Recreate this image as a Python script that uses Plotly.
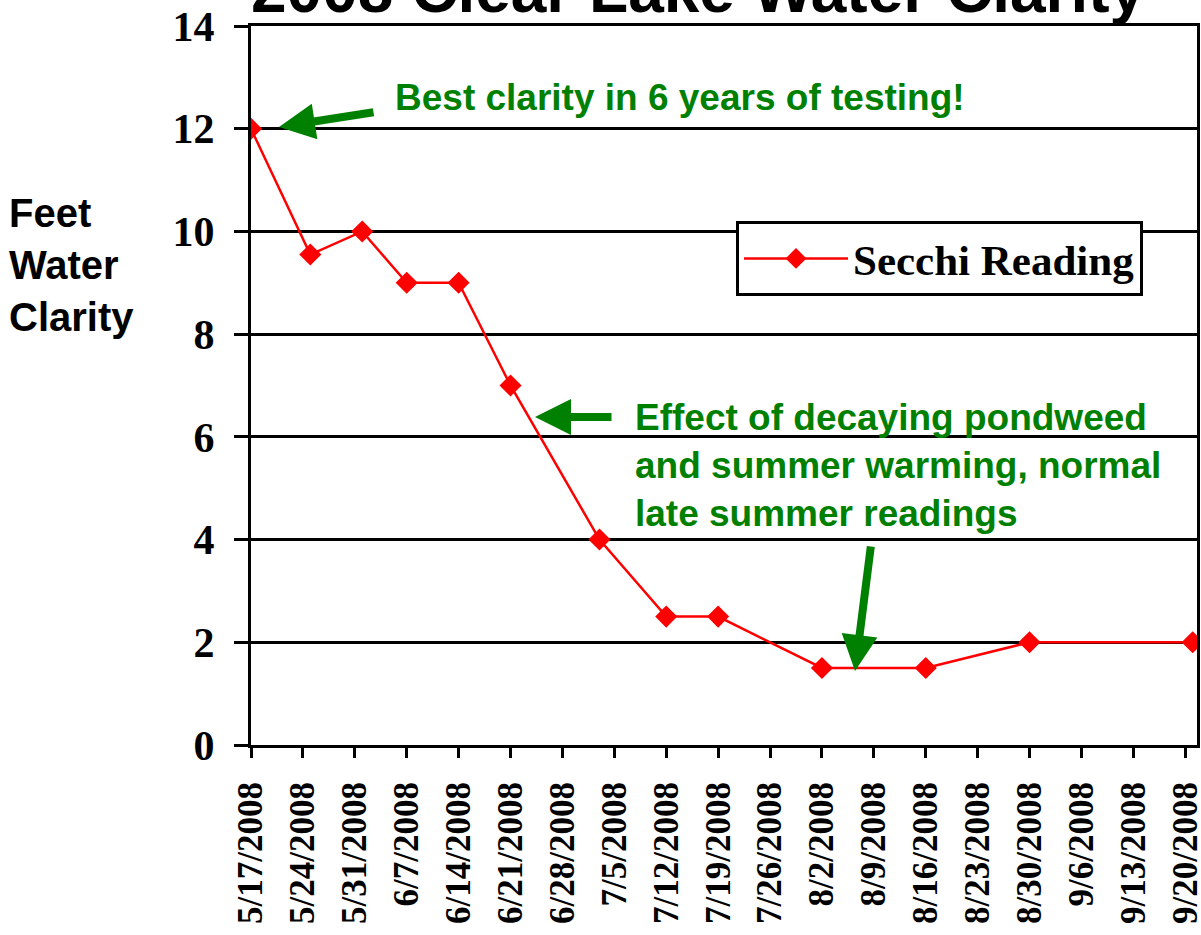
import plotly.graph_objects as go
import pandas as pd

# ---- data ----
sample_dates = ["2008-05-17", "2008-05-25", "2008-06-01", "2008-06-07", "2008-06-14",
                "2008-06-21", "2008-07-03", "2008-07-12", "2008-07-19", "2008-08-02",
                "2008-08-16", "2008-08-30", "2008-09-21"]
secchi_feet = [12, 9.55, 10, 9, 9, 7, 4, 2.5, 2.5, 1.5, 1.5, 2, 2]
tick_labels = ["5/17/2008", "5/24/2008", "5/31/2008", "6/7/2008", "6/14/2008", "6/21/2008",
               "6/28/2008", "7/5/2008", "7/12/2008", "7/19/2008", "7/26/2008", "8/2/2008",
               "8/9/2008", "8/16/2008", "8/23/2008", "8/30/2008", "9/6/2008", "9/13/2008",
               "9/20/2008"]
y_ticks = [0, 2, 4, 6, 8, 10, 12, 14]
tick_dates = [pd.to_datetime(t, format="%m/%d/%Y") for t in tick_labels]

# ---- layout geometry (pixels) ----
W, H = 1201, 935
PL, PR, PT, PB = 251, 1197, 26, 745

def px_x(x):
    return (x - PL) / (PR - PL)

def px_y(y):
    return (PB - y) / (PB - PT)

GREEN = "#008000"
SANS = "Liberation Sans, Arial, sans-serif"
SERIF = "Liberation Serif, Times New Roman, serif"

fig = go.Figure()
fig.add_trace(go.Scatter(
    x=pd.to_datetime(sample_dates), y=secchi_feet, mode="lines+markers",
    name="Secchi Reading",
    line=dict(color="#FF0000", width=2.5),
    marker=dict(symbol="diamond", size=17, color="#FF0000"),
))

fig.update_layout(
    width=W, height=H,
    margin=dict(l=PL, r=W - PR, t=PT, b=H - PB, autoexpand=False),
    paper_bgcolor="white", plot_bgcolor="white",
    showlegend=True,
    legend=dict(
        x=px_x(736), y=px_y(221), xanchor="left", yanchor="top",
        bgcolor="white", bordercolor="black", borderwidth=3,
        font=dict(family=SERIF, size=43, color="black", weight="bold"),
        itemwidth=104,
    ),
)

fig.update_xaxes(
    type="date", automargin=False,
    range=["2008-05-17", "2008-09-21 14:00"],
    tickmode="array", tickvals=tick_dates, ticktext=tick_labels,
    tickangle=-90, ticklabeloverflow="allow",
    tickfont=dict(family=SERIF, size=35, color="black", weight="bold"),
    ticks="outside", ticklen=10, tickwidth=3, tickcolor="black",
    ticklabelstandoff=10,
    showline=True, linecolor="black", linewidth=3, mirror=True,
    showgrid=False, zeroline=False,
)
fig.update_yaxes(
    range=[0, 14], automargin=False,
    tickmode="array", tickvals=y_ticks,
    tickfont=dict(family=SERIF, size=42, color="black", weight="bold"),
    ticks="outside", ticklen=14, tickwidth=3, tickcolor="black",
    ticklabelstandoff=11,
    showline=True, linecolor="black", linewidth=3, mirror=True,
    showgrid=True, gridcolor="black", gridwidth=3, zeroline=False,
)

# title (partly cut off at the top of the page)
fig.add_annotation(
    text="2008 Clear Lake Water Clarity", xref="paper", yref="paper",
    x=px_x(698), y=px_y(-10), xanchor="center", yanchor="middle",
    showarrow=False,
    font=dict(family=SANS, size=64, color="black", weight="bold"),
)

# y axis title
fig.add_annotation(
    text="Feet<br>Water<br>Clarity", xref="paper", yref="paper",
    x=px_x(7), y=px_y(189), xanchor="left", yanchor="top", align="left",
    showarrow=False,
    font=dict(family=SANS, size=40, color="black", weight="bold"),
)

# green notes
fig.add_annotation(
    text="Best clarity in 6 years of testing!", xref="paper", yref="paper",
    x=px_x(393), y=px_y(75), xanchor="left", yanchor="top",
    showarrow=False,
    font=dict(family=SANS, size=37, color=GREEN, weight="bold"),
)
fig.add_annotation(
    text="Effect of decaying pondweed<br>and summer warming, normal<br>late summer readings",
    xref="paper", yref="paper",
    x=px_x(633), y=px_y(395), xanchor="left", yanchor="top", align="left",
    showarrow=False,
    font=dict(family=SANS, size=37, color=GREEN, weight="bold"),
)

# arrows: (tip_x, tip_y, tail_dx, tail_dy) in pixels
arrows = [(279, 127, 96, -15), (535, 417, 78, 0), (855, 671, 16, -126)]
for tx, ty, dx, dy in arrows:
    fig.add_annotation(
        text="", xref="paper", yref="paper", x=px_x(tx), y=px_y(ty),
        ax=dx, ay=dy, showarrow=True, arrowhead=2, arrowsize=0.9,
        arrowwidth=8, arrowcolor=GREEN,
    )

fig.write_html("out.html", config={"displayModeBar": False},
               post_script="document.body.style.margin='0';")
